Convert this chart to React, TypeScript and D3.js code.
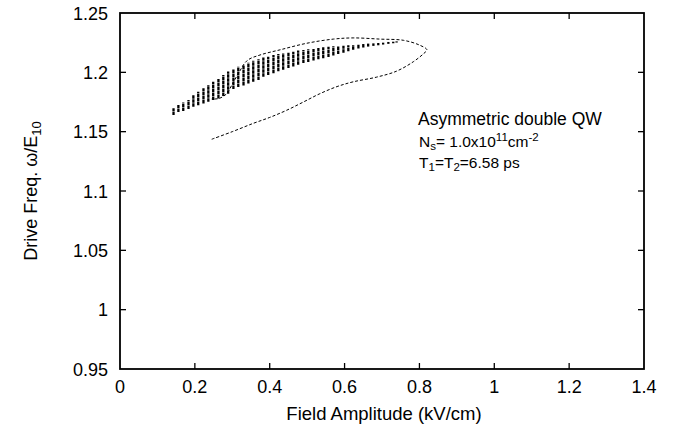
import React from "react";
import * as d3 from "d3";

const xTicks = [0, 0.2, 0.4, 0.6, 0.8, 1, 1.2, 1.4];
const yTicks = [0.95, 1, 1.05, 1.1, 1.15, 1.2, 1.25];

// dotted columns (x, upper y, lower y)
const colX = [0.143, 0.156, 0.169, 0.183, 0.196, 0.209, 0.223, 0.236, 0.249, 0.263, 0.276, 0.289, 0.303, 0.316, 0.330, 0.343, 0.356, 0.370, 0.383, 0.396, 0.410, 0.423, 0.436, 0.450, 0.463, 0.476, 0.490, 0.503, 0.517, 0.530, 0.543, 0.557, 0.570, 0.583, 0.597, 0.610, 0.623, 0.637, 0.650, 0.663, 0.677, 0.690, 0.703, 0.717, 0.730, 0.739];
const colHi = [1.1697, 1.1725, 1.1745, 1.1767, 1.1809, 1.1837, 1.1865, 1.1893, 1.1921, 1.1949, 1.1978, 1.2006, 1.2025, 1.2048, 1.2062, 1.2081, 1.2098, 1.2110, 1.2124, 1.2132, 1.2146, 1.2154, 1.2160, 1.2166, 1.2174, 1.2183, 1.2188, 1.2194, 1.2199, 1.2205, 1.2211, 1.2216, 1.2219, 1.2222, 1.2225, 1.2228, 1.2230, 1.2236, 1.2239, 1.2242, 1.2244, 1.2247, 1.2250, 1.2256, 1.2258, 1.2261];
const colLo = [1.1640, 1.1665, 1.1675, 1.1690, 1.1710, 1.1722, 1.1738, 1.1752, 1.1766, 1.1780, 1.1800, 1.1820, 1.1860, 1.1876, 1.1890, 1.1905, 1.1920, 1.1935, 1.1962, 1.1978, 1.1992, 1.2010, 1.2022, 1.2036, 1.2050, 1.2064, 1.2078, 1.2088, 1.2100, 1.2110, 1.2118, 1.2130, 1.2142, 1.2154, 1.2164, 1.2178, 1.2190, 1.2200, 1.2209, 1.2217, 1.2223, 1.2228, 1.2234, 1.2240, 1.2245, 1.2251];

// dashed boundary curve
const loopX = [0.245, 0.30, 0.356, 0.40, 0.445, 0.49, 0.534, 0.58, 0.623, 0.686, 0.739, 0.784, 0.812, 0.82, 0.80, 0.757, 0.695, 0.623, 0.570, 0.499, 0.428, 0.374, 0.340, 0.318, 0.300, 0.285, 0.265, 0.245];
const loopY = [1.1436, 1.150, 1.157, 1.162, 1.168, 1.175, 1.182, 1.188, 1.192, 1.196, 1.201, 1.209, 1.216, 1.219, 1.223, 1.227, 1.228, 1.229, 1.228, 1.2245, 1.219, 1.2146, 1.210, 1.200, 1.190, 1.182, 1.178, 1.1775];

const W = 674, H = 434;
const L = 120, R = 644, T = 13, B = 369;
const FONT = "'Liberation Sans', Arial, Helvetica, sans-serif";

export default function App() {
  const x = d3.scaleLinear().domain([0, 1.4]).range([L, R]);
  const y = d3.scaleLinear().domain([0.95, 1.25]).range([B, T]);
  const line = d3
    .line<[number, number]>()
    .x((d) => x(d[0]))
    .y((d) => y(d[1]))
    .curve(d3.curveCatmullRom.alpha(0.5));
  const loopPts: [number, number][] = loopX.map((v, i) => [v, loopY[i]]);
  const tl = 6;
  return (
    <div style={{ position: "fixed", left: 0, top: 0 }}>
      <svg width={W} height={H} style={{ display: "block", background: "#fff" }} fontFamily={FONT}>
        <rect x={0} y={0} width={W} height={H} fill="#fff" />
        {/* data columns */}
        {colX.map((cx, i) => (
          <line
            key={"c" + i}
            x1={x(cx)}
            x2={x(cx)}
            y1={y(colLo[i])}
            y2={y(colHi[i])}
            stroke="#000"
            strokeWidth={2.3}
            strokeDasharray="3.5,0.5"
          />
        ))}
        <path d={line(loopPts) || ""} fill="none" stroke="#000" strokeWidth={1} strokeDasharray="3,2" />
        {/* frame */}
        <rect x={L} y={T} width={R - L} height={B - T} fill="none" stroke="#000" strokeWidth={1.8} />
        {xTicks.map((t, i) => (
          <g key={"xt" + i}>
            {i > 0 && i < xTicks.length - 1 && (
              <>
                <line x1={x(t)} x2={x(t)} y1={B} y2={B - tl} stroke="#000" strokeWidth={1.3} />
                <line x1={x(t)} x2={x(t)} y1={T} y2={T + tl} stroke="#000" strokeWidth={1.3} />
              </>
            )}
            <text x={x(t)} y={393} textAnchor="middle" fontSize={18}>
              {String(t)}
            </text>
          </g>
        ))}
        {yTicks.map((t, i) => (
          <g key={"yt" + i}>
            {i > 0 && i < yTicks.length - 1 && (
              <>
                <line x1={L} x2={L + tl} y1={y(t)} y2={y(t)} stroke="#000" strokeWidth={1.3} />
                <line x1={R} x2={R - tl} y1={y(t)} y2={y(t)} stroke="#000" strokeWidth={1.3} />
              </>
            )}
            <text x={108} y={y(t) + 6.5} textAnchor="end" fontSize={18}>
              {String(t)}
            </text>
          </g>
        ))}
        <text x={(L + R) / 2 + 2} y={420} textAnchor="middle" fontSize={18.5}>
          Field Amplitude (kV/cm)
        </text>
        <text transform={`translate(37, ${(T + B) / 2}) rotate(-90)`} textAnchor="middle" fontSize={18}>
          Drive Freq. ω/E<tspan fontSize={13} dy={4}>10</tspan>
        </text>
        {/* annotation */}
        <text x={418} y={125} fontSize={17.5}>
          Asymmetric double QW
        </text>
        <text x={419} y={147} fontSize={15.5}>
          N<tspan fontSize={11.5} dy={3}>s</tspan>
          <tspan dy={-3}>= 1.0x10</tspan>
          <tspan fontSize={11.5} dy={-6}>11</tspan>
          <tspan dy={6}>cm</tspan>
          <tspan fontSize={11.5} dy={-6}>-2</tspan>
        </text>
        <text x={419} y={168} fontSize={15.5}>
          T<tspan fontSize={11.5} dy={3}>1</tspan>
          <tspan dy={-3}>=T</tspan>
          <tspan fontSize={11.5} dy={3}>2</tspan>
          <tspan dy={-3}>=6.58 ps</tspan>
        </text>
      </svg>
    </div>
  );
}
